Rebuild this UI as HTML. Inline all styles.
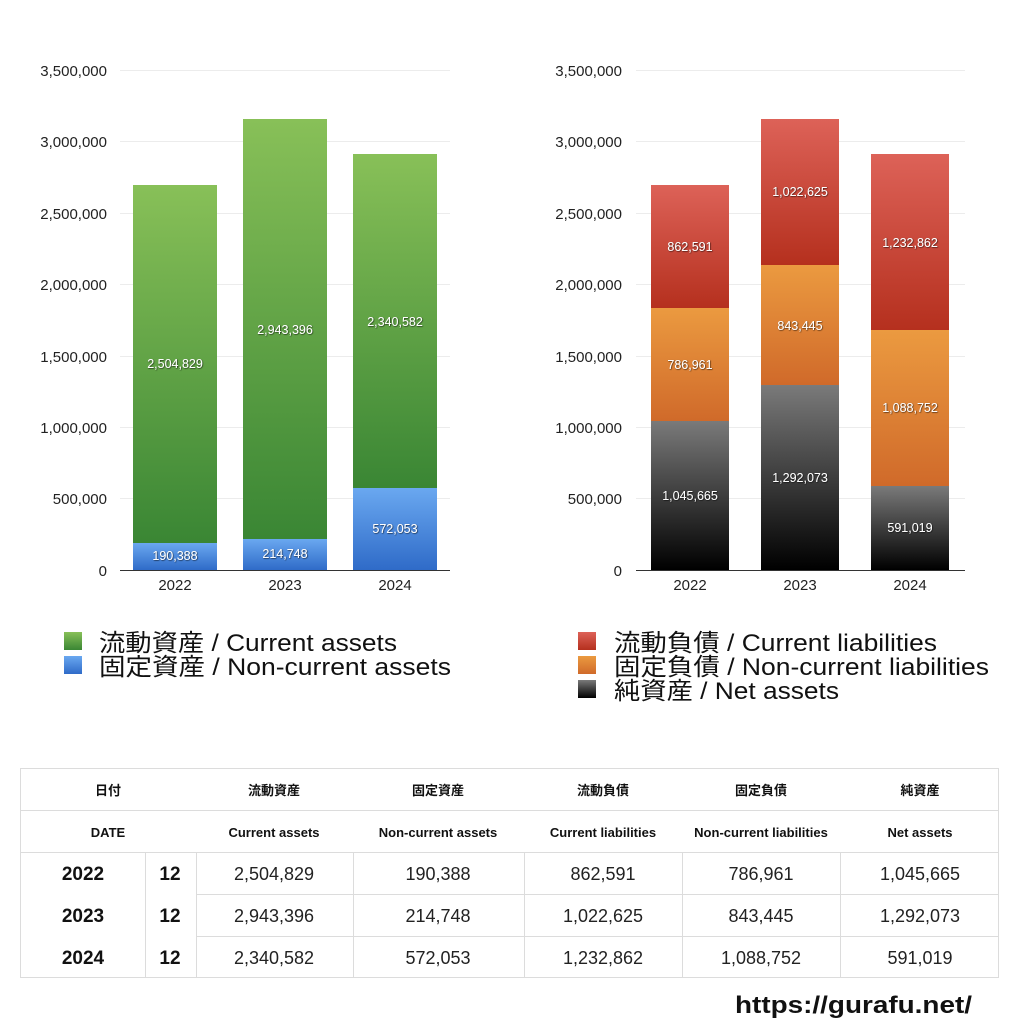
<!DOCTYPE html>
<html><head><meta charset="utf-8"><style>
body{margin:0;background:#fff;}
svg text{font-family:"Liberation Sans","Noto Sans CJK JP",sans-serif;}
</style></head><body>
<svg width="1024" height="1024" xmlns="http://www.w3.org/2000/svg">
<defs>
<linearGradient id="g" x1="0" y1="0" x2="0" y2="1"><stop offset="0" stop-color="#88c058"/><stop offset="1" stop-color="#3a8634"/></linearGradient>
<linearGradient id="b" x1="0" y1="0" x2="0" y2="1"><stop offset="0" stop-color="#6aa8f0"/><stop offset="1" stop-color="#2f6bc8"/></linearGradient>
<linearGradient id="r" x1="0" y1="0" x2="0" y2="1"><stop offset="0" stop-color="#dd6258"/><stop offset="1" stop-color="#b5301e"/></linearGradient>
<linearGradient id="o" x1="0" y1="0" x2="0" y2="1"><stop offset="0" stop-color="#eb9a40"/><stop offset="1" stop-color="#d06a2a"/></linearGradient>
<linearGradient id="k" x1="0" y1="0" x2="0" y2="1"><stop offset="0" stop-color="#7a7a7a"/><stop offset="1" stop-color="#000"/></linearGradient>
<filter id="sh"><feDropShadow dx="0.6" dy="0.6" stdDeviation="0.5" flood-color="#000" flood-opacity="0.8"/></filter>
</defs>
<g stroke="#ececec" stroke-width="1">
<line x1="120" x2="450" y1="70.5" y2="70.5"/><line x1="120" x2="450" y1="141.5" y2="141.5"/><line x1="120" x2="450" y1="213.5" y2="213.5"/><line x1="120" x2="450" y1="284.5" y2="284.5"/><line x1="120" x2="450" y1="356.5" y2="356.5"/><line x1="120" x2="450" y1="427.5" y2="427.5"/><line x1="120" x2="450" y1="498.5" y2="498.5"/>
<line x1="636" x2="965" y1="70.5" y2="70.5"/><line x1="636" x2="965" y1="141.5" y2="141.5"/><line x1="636" x2="965" y1="213.5" y2="213.5"/><line x1="636" x2="965" y1="284.5" y2="284.5"/><line x1="636" x2="965" y1="356.5" y2="356.5"/><line x1="636" x2="965" y1="427.5" y2="427.5"/><line x1="636" x2="965" y1="498.5" y2="498.5"/>
</g>
<g font-size="15" fill="#222" text-anchor="end">
<text x="107" y="76">3,500,000</text><text x="107" y="147">3,000,000</text><text x="107" y="219">2,500,000</text><text x="107" y="290">2,000,000</text><text x="107" y="362">1,500,000</text><text x="107" y="433">1,000,000</text><text x="107" y="504">500,000</text><text x="107" y="576">0</text>
<text x="622" y="76">3,500,000</text><text x="622" y="147">3,000,000</text><text x="622" y="219">2,500,000</text><text x="622" y="290">2,000,000</text><text x="622" y="362">1,500,000</text><text x="622" y="433">1,000,000</text><text x="622" y="504">500,000</text><text x="622" y="576">0</text>
</g>
<rect x="133" y="185" width="84" height="358" fill="url(#g)"/><rect x="133" y="543" width="84" height="27" fill="url(#b)"/>
<rect x="243" y="119" width="84" height="420" fill="url(#g)"/><rect x="243" y="539" width="84" height="31" fill="url(#b)"/>
<rect x="353" y="154" width="84" height="334" fill="url(#g)"/><rect x="353" y="488" width="84" height="82" fill="url(#b)"/>
<rect x="651" y="185" width="78" height="123" fill="url(#r)"/><rect x="651" y="308" width="78" height="113" fill="url(#o)"/><rect x="651" y="421" width="78" height="149" fill="url(#k)"/>
<rect x="761" y="119" width="78" height="146" fill="url(#r)"/><rect x="761" y="265" width="78" height="120" fill="url(#o)"/><rect x="761" y="385" width="78" height="185" fill="url(#k)"/>
<rect x="871" y="154" width="78" height="176" fill="url(#r)"/><rect x="871" y="330" width="78" height="156" fill="url(#o)"/><rect x="871" y="486" width="78" height="84" fill="url(#k)"/>
<line x1="120" x2="450" y1="570.5" y2="570.5" stroke="#333"/><line x1="636" x2="965" y1="570.5" y2="570.5" stroke="#333"/>
<g font-size="12.5" fill="#fff" text-anchor="middle" filter="url(#sh)">
<text x="175" y="368">2,504,829</text><text x="175" y="560">190,388</text>
<text x="285" y="334">2,943,396</text><text x="285" y="558">214,748</text>
<text x="395" y="326">2,340,582</text><text x="395" y="533">572,053</text>
<text x="690" y="251">862,591</text><text x="690" y="369">786,961</text><text x="690" y="500">1,045,665</text>
<text x="800" y="196">1,022,625</text><text x="800" y="330">843,445</text><text x="800" y="482">1,292,073</text>
<text x="910" y="247">1,232,862</text><text x="910" y="412">1,088,752</text><text x="910" y="532">591,019</text>
</g>
<g font-size="15" fill="#222" text-anchor="middle">
<text x="175" y="590">2022</text><text x="285" y="590">2023</text><text x="395" y="590">2024</text>
<text x="690" y="590">2022</text><text x="800" y="590">2023</text><text x="910" y="590">2024</text>
</g>
<rect x="64" y="632" width="18" height="18" fill="url(#g)"/><rect x="64" y="656" width="18" height="18" fill="url(#b)"/>
<rect x="578" y="632" width="18" height="18" fill="url(#r)"/><rect x="578" y="656" width="18" height="18" fill="url(#o)"/><rect x="578" y="680" width="18" height="18" fill="url(#k)"/>
<g font-size="24" fill="#111" lengthAdjust="spacingAndGlyphs">
<text x="99" y="651" textLength="298" lengthAdjust="spacingAndGlyphs">流動資産 / Current assets</text><text x="99" y="675" textLength="352" lengthAdjust="spacingAndGlyphs">固定資産 / Non-current assets</text>
<text x="614" y="651" textLength="323" lengthAdjust="spacingAndGlyphs">流動負債 / Current liabilities</text><text x="614" y="675" textLength="375" lengthAdjust="spacingAndGlyphs">固定負債 / Non-current liabilities</text><text x="614" y="699" textLength="225" lengthAdjust="spacingAndGlyphs">純資産 / Net assets</text>
</g>
<g stroke="#dcdcdc" stroke-width="1" fill="none">
<rect x="20.5" y="768.5" width="978" height="209"/>
<line x1="20" x2="999" y1="810.5" y2="810.5"/><line x1="20" x2="999" y1="852.5" y2="852.5"/>
<line x1="196" x2="999" y1="894.5" y2="894.5"/><line x1="196" x2="999" y1="936.5" y2="936.5"/>
<line x1="145.5" x2="145.5" y1="852" y2="978"/><line x1="196.5" x2="196.5" y1="852" y2="978"/><line x1="353.5" x2="353.5" y1="852" y2="978"/><line x1="524.5" x2="524.5" y1="852" y2="978"/><line x1="682.5" x2="682.5" y1="852" y2="978"/><line x1="840.5" x2="840.5" y1="852" y2="978"/>
</g>
<g font-size="13" font-weight="bold" fill="#111" text-anchor="middle">
<text x="108" y="795">日付</text><text x="274" y="795">流動資産</text><text x="438" y="795">固定資産</text><text x="603" y="795">流動負債</text><text x="761" y="795">固定負債</text><text x="920" y="795">純資産</text>
<text x="108" y="837">DATE</text><text x="274" y="837">Current assets</text><text x="438" y="837">Non-current assets</text><text x="603" y="837">Current liabilities</text><text x="761" y="837">Non-current liabilities</text><text x="920" y="837">Net assets</text>
</g>
<g font-size="19" font-weight="bold" fill="#111" text-anchor="middle">
<text x="83" y="880">2022</text><text x="170" y="880">12</text>
<text x="83" y="922">2023</text><text x="170" y="922">12</text>
<text x="83" y="964">2024</text><text x="170" y="964">12</text>
</g>
<g font-size="18" fill="#222" text-anchor="middle">
<text x="274" y="880">2,504,829</text><text x="438" y="880">190,388</text><text x="603" y="880">862,591</text><text x="761" y="880">786,961</text><text x="920" y="880">1,045,665</text>
<text x="274" y="922">2,943,396</text><text x="438" y="922">214,748</text><text x="603" y="922">1,022,625</text><text x="761" y="922">843,445</text><text x="920" y="922">1,292,073</text>
<text x="274" y="964">2,340,582</text><text x="438" y="964">572,053</text><text x="603" y="964">1,232,862</text><text x="761" y="964">1,088,752</text><text x="920" y="964">591,019</text>
</g>
<text x="735" y="1013" font-size="24" font-weight="bold" fill="#111" textLength="237" lengthAdjust="spacingAndGlyphs">https://gurafu.net/</text>
</svg>
</body></html>
